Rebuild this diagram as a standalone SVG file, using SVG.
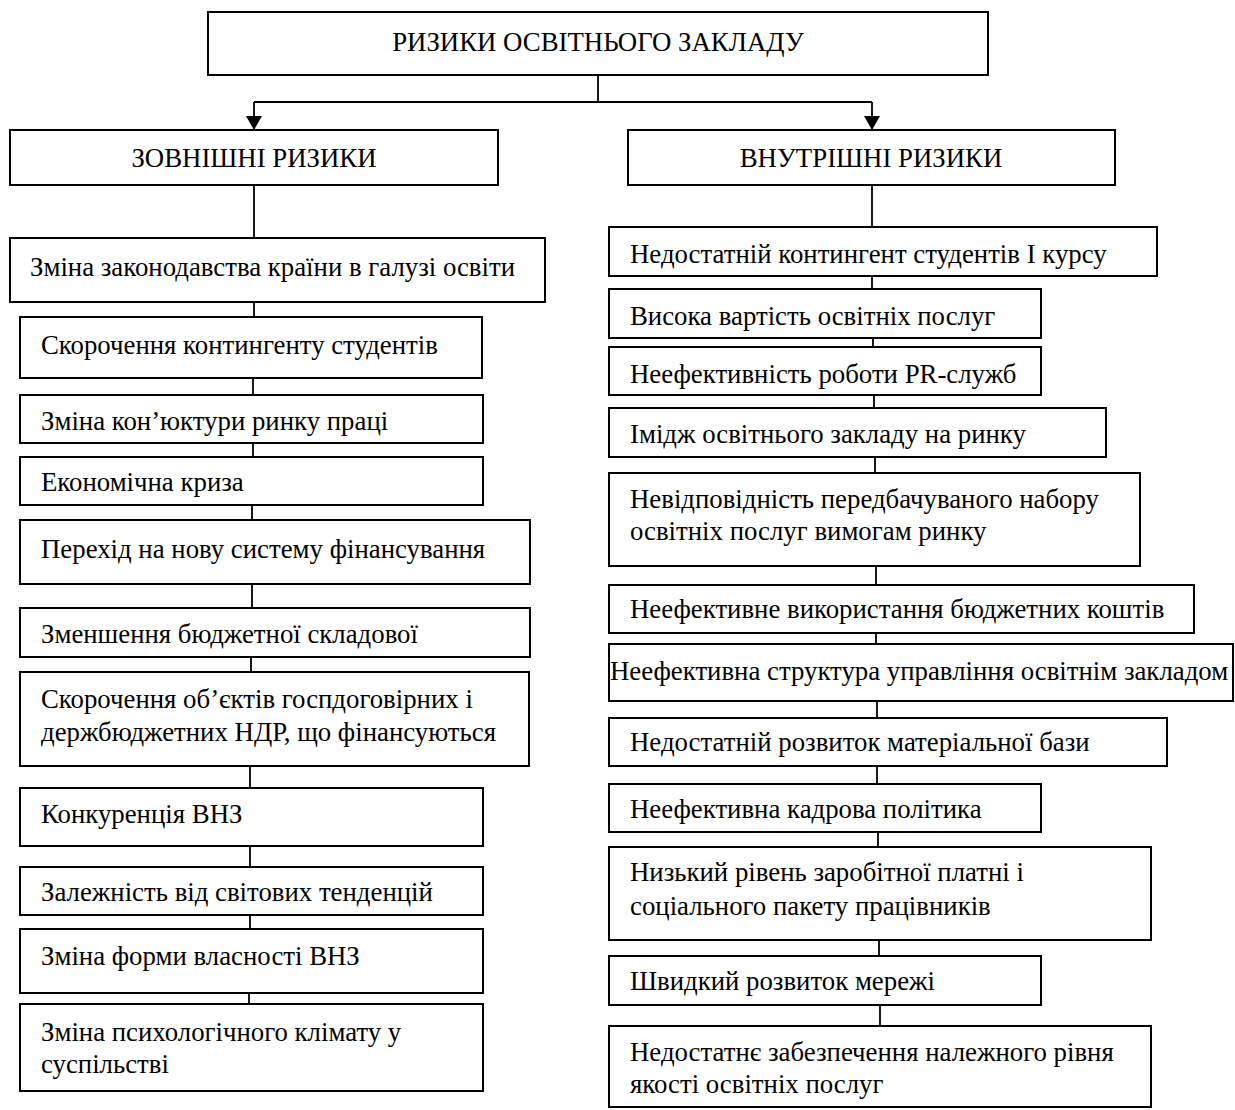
<svg xmlns="http://www.w3.org/2000/svg" width="1235" height="1110" viewBox="0 0 1235 1110">
<style>
  .box { fill: #ffffff; stroke: #000000; stroke-width: 2; }
  .t { font-family: "Liberation Serif", "Times New Roman", serif; font-size: 26.8px; fill: #000000; }
  .c { text-anchor: middle; }
  .conn { stroke: #000000; stroke-width: 1.8; fill: none; }
</style>
<defs>
  <marker id="arr" markerWidth="16" markerHeight="14" refX="8" refY="13" orient="0" markerUnits="userSpaceOnUse">
    <path d="M0,0 L16,0 L8,14 Z" fill="#000000"/>
  </marker>
</defs>
<rect width="1235" height="1110" fill="#ffffff"/>

<g id="connectors">
  <path class="conn" d="M598,75 V102"/>
  <path class="conn" d="M254,102 H872"/>
  <path class="conn" d="M254,102 V129" marker-end="url(#arr)"/>
  <path class="conn" d="M872,102 V129" marker-end="url(#arr)"/>
  <path class="conn" d="M254,185 V238"/>
  <path class="conn" d="M254,302 V317"/>
  <path class="conn" d="M253,378 V395"/>
  <path class="conn" d="M253,443 V457"/>
  <path class="conn" d="M252,505 V520"/>
  <path class="conn" d="M252,584 V608"/>
  <path class="conn" d="M251,657 V672"/>
  <path class="conn" d="M250,766 V788"/>
  <path class="conn" d="M250,846 V867"/>
  <path class="conn" d="M250,915 V929"/>
  <path class="conn" d="M249,993 V1004"/>
  <path class="conn" d="M872,185 V227"/>
  <path class="conn" d="M872,276 V289"/>
  <path class="conn" d="M873,338 V347"/>
  <path class="conn" d="M874,395 V408"/>
  <path class="conn" d="M875,457 V473"/>
  <path class="conn" d="M876,566 V585"/>
  <path class="conn" d="M876,633 V644"/>
  <path class="conn" d="M877,701 V718"/>
  <path class="conn" d="M877,766 V784"/>
  <path class="conn" d="M878,832 V847"/>
  <path class="conn" d="M879,940 V956"/>
  <path class="conn" d="M880,1005 V1026"/>
</g>

<g id="root">
  <rect class="box" x="208" y="12" width="780" height="63"/>
  <text class="t c" x="598" y="51">РИЗИКИ ОСВІТНЬОГО ЗАКЛАДУ</text>
</g>

<g id="external">
  <rect class="box" x="10" y="130" width="488" height="55"/>
  <text class="t c" x="254" y="167">ЗОВНІШНІ РИЗИКИ</text>
</g>
<g id="internal">
  <rect class="box" x="628" y="130" width="487" height="55"/>
  <text class="t c" x="871" y="167">ВНУТРІШНІ РИЗИКИ</text>
</g>

<g id="l1">
  <rect class="box" x="10" y="238" width="535" height="64"/>
  <text class="t" x="30" y="276">Зміна законодавства країни в галузі освіти</text>
</g>
<g id="l2">
  <rect class="box" x="20" y="317" width="462" height="61"/>
  <text class="t" x="41" y="354">Скорочення контингенту студентів</text>
</g>
<g id="l3">
  <rect class="box" x="20" y="395" width="463" height="48"/>
  <text class="t" x="41" y="430">Зміна кон’юктури ринку праці</text>
</g>
<g id="l4">
  <rect class="box" x="20" y="457" width="463" height="48"/>
  <text class="t" x="41" y="491">Економічна криза</text>
</g>
<g id="l5">
  <rect class="box" x="20" y="520" width="510" height="64"/>
  <text class="t" x="41" y="558">Перехід на нову систему фінансування</text>
</g>
<g id="l6">
  <rect class="box" x="20" y="608" width="510" height="49"/>
  <text class="t" x="41" y="643">Зменшення бюджетної складової</text>
</g>
<g id="l7">
  <rect class="box" x="20" y="672" width="509" height="94"/>
  <text class="t" x="41" y="708">Скорочення об’єктів госпдоговірних і</text>
  <text class="t" x="41" y="741">держбюджетних НДР, що фінансуються</text>
</g>
<g id="l8">
  <rect class="box" x="20" y="788" width="463" height="58"/>
  <text class="t" x="41" y="823">Конкуренція ВНЗ</text>
</g>
<g id="l9">
  <rect class="box" x="20" y="867" width="463" height="48"/>
  <text class="t" x="41" y="901">Залежність від світових тенденцій</text>
</g>
<g id="l10">
  <rect class="box" x="20" y="929" width="463" height="64"/>
  <text class="t" x="41" y="965">Зміна форми власності ВНЗ</text>
</g>
<g id="l11">
  <rect class="box" x="20" y="1004" width="463" height="87"/>
  <text class="t" x="41" y="1041">Зміна психологічного клімату у</text>
  <text class="t" x="41" y="1073">суспільстві</text>
</g>

<g id="r1">
  <rect class="box" x="609" y="227" width="548" height="49"/>
  <text class="t" x="630" y="263">Недостатній контингент студентів І курсу</text>
</g>
<g id="r2">
  <rect class="box" x="609" y="289" width="432" height="49"/>
  <text class="t" x="630" y="325">Висока вартість освітніх послуг</text>
</g>
<g id="r3">
  <rect class="box" x="609" y="347" width="432" height="48"/>
  <text class="t" x="630" y="383">Неефективність роботи PR-служб</text>
</g>
<g id="r4">
  <rect class="box" x="609" y="408" width="497" height="49"/>
  <text class="t" x="630" y="443">Імідж освітнього закладу на ринку</text>
</g>
<g id="r5">
  <rect class="box" x="609" y="473" width="531" height="93"/>
  <text class="t" x="630" y="508">Невідповідність передбачуваного набору</text>
  <text class="t" x="630" y="540">освітніх послуг вимогам ринку</text>
</g>
<g id="r6">
  <rect class="box" x="609" y="585" width="585" height="48"/>
  <text class="t" x="630" y="618">Неефективне використання бюджетних коштів</text>
</g>
<g id="r7">
  <rect class="box" x="609" y="644" width="624" height="57"/>
  <text class="t" x="610" y="680">Неефективна структура управління освітнім закладом</text>
</g>
<g id="r8">
  <rect class="box" x="609" y="718" width="558" height="48"/>
  <text class="t" x="630" y="751">Недостатній розвиток матеріальної бази</text>
</g>
<g id="r9">
  <rect class="box" x="609" y="784" width="432" height="48"/>
  <text class="t" x="630" y="818">Неефективна кадрова політика</text>
</g>
<g id="r10">
  <rect class="box" x="609" y="847" width="542" height="93"/>
  <text class="t" x="630" y="881">Низький рівень заробітної платні і</text>
  <text class="t" x="630" y="915">соціального пакету працівників</text>
</g>
<g id="r11">
  <rect class="box" x="609" y="956" width="432" height="49"/>
  <text class="t" x="630" y="990">Швидкий розвиток мережі</text>
</g>
<g id="r12">
  <rect class="box" x="609" y="1026" width="542" height="81"/>
  <text class="t" x="630" y="1061">Недостатнє забезпечення належного рівня</text>
  <text class="t" x="630" y="1093">якості освітніх послуг</text>
</g>
</svg>
